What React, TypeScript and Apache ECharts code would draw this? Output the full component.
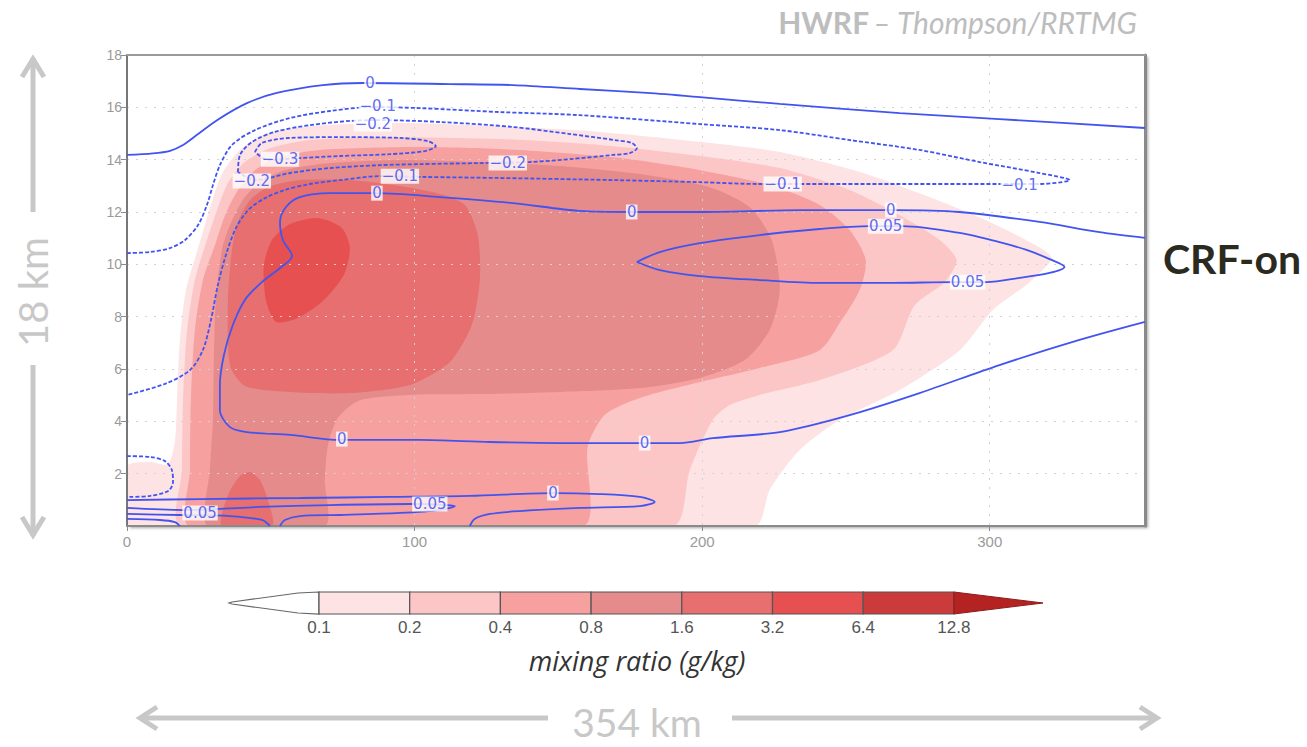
import React, { useEffect, useRef } from "react";
import * as echarts from "echarts";

// ---- shading levels (g/kg) ----
const barTicks = ["0.1", "0.2", "0.4", "0.8", "1.6", "3.2", "6.4", "12.8"];
const levelColors = ["#fde3e3", "#fcc6c6", "#f6a0a0", "#e58b8b", "#e76f6f", "#e65050", "#cb3b3b"];
const overColor = "#b52222";

// ---- filled regions, points are [radius km, height km] ----
const fill01 = [[0,0],[0,2.29],[8.0,2.45],[14.3,2.37],[16.7,3.29],[17.4,4.81],[18.4,7.11],[20.5,9.02],[24.0,10.36],[27.1,11.5],[29.9,12.53],[33.4,13.53],[39.3,14.37],[48.0,14.98],[63.6,15.28],[94.9,15.4],[129.6,15.28],[164.4,15.06],[199.2,14.68],[227.0,14.29],[254.8,13.53],[279.1,12.57],[300.0,11.62],[313.9,10.85],[321.5,10.24],[313.9,9.32],[301.0,8.25],[289.6,6.72],[268.7,5.2],[247.8,4.05],[233.9,2.9],[223.5,1.38],[218.3,0]];
const fill02 = [[18.8,0],[19.1,2.14],[19.5,4.81],[20.9,7.49],[23.6,9.4],[27.8,10.93],[31.3,12.07],[35.1,13.11],[41.0,13.91],[49.7,14.44],[63.6,14.75],[87.9,14.86],[129.6,14.79],[164.4,14.56],[199.2,14.14],[227.0,13.68],[251.3,12.84],[268.7,11.88],[282.6,10.93],[288.5,10.16],[284.3,9.32],[273.9,8.44],[266.3,6.72],[240.9,5.58],[220.0,5.01],[209.6,4.62],[203.7,4.05],[195.7,2.14],[189.8,0]];
const fill04 = [[21.9,0],[21.9,2.14],[22.2,4.81],[23.6,7.49],[26.4,9.4],[30.6,10.74],[34.1,11.88],[38.6,12.84],[44.5,13.6],[53.2,14.1],[67.1,14.37],[101.8,14.48],[136.6,14.37],[171.4,14.06],[199.2,13.6],[223.5,13.03],[240.9,12.27],[251.3,11.31],[256.9,10.16],[254.8,9.02],[248.5,7.87],[240.9,6.72],[220.0,6.04],[199.2,5.5],[178.3,4.89],[166.1,4.24],[160.2,3.02],[158.5,0]];
const fill08 = [[28.2,0],[28.8,2.14],[29.9,4.05],[30.2,6.34],[30.9,8.64],[33.0,10.55],[35.8,11.5],[40.3,12.46],[46.2,13.14],[54.9,13.6],[70.6,13.87],[94.9,13.99],[122.7,13.91],[150.5,13.76],[178.3,13.45],[202.6,12.95],[216.5,12.19],[224.2,10.93],[227.0,9.02],[223.5,7.49],[214.8,6.34],[199.2,5.66],[178.3,5.27],[150.5,5.12],[122.7,5.04],[98.4,5.01],[81.0,4.81],[73.3,4.13],[69.9,3.1],[68.8,1.76],[68.8,0]];
const fill16 = [[36.5,10.55],[38.6,11.62],[42.8,12.46],[49.0,12.95],[60.1,13.22],[77.5,13.22],[94.9,12.99],[108.8,12.69],[117.5,12.27],[122.0,11.12],[122.7,9.4],[119.9,7.68],[112.3,6.27],[98.4,5.39],[77.5,5.08],[56.7,5.12],[41.0,5.35],[35.8,6.15],[35.1,8.64]];
const fill16Low = [[33.0,0],[35.1,1.18],[39.3,1.91],[42.8,2.06],[46.2,1.76],[49.0,0.99],[50.4,0]];
const fill32 = [[50.4,10.93],[56.7,11.54],[66.4,11.77],[74.7,11.39],[77.5,10.62],[75.4,9.59],[68.5,8.64],[59.4,7.95],[51.8,7.8],[48.3,8.64],[47.6,9.97]];

// ---- contour lines of the second field ----
const cTop0 = [[0,14.18],[9.0,14.24],[15.0,14.34],[19.5,14.56],[24.0,14.92],[31.3,15.51],[41.7,16.16],[52.1,16.55],[68.1,16.85],[82.0,16.93],[112.3,16.89],[134.2,16.85],[157.5,16.7],[180.8,16.55],[199.2,16.39],[227.0,16.13],[268.7,15.78],[303.4,15.55],[354,15.21]];
const cNeg01 = [[0,10.43],[8.0,10.47],[14.9,10.62],[20.2,10.93],[24.7,11.5],[27.8,12.27],[29.9,13.03],[32.3,13.79],[36.5,14.56],[44.5,15.13],[56.7,15.59],[70.6,15.86],[85.2,16.01],[101.8,15.97],[129.6,15.82],[157.5,15.7],[199.2,15.36],[227.0,15.13],[251.3,14.75],[275.6,14.37],[296.5,13.91],[317.3,13.49],[327.8,13.22],[317.3,13.07],[303.4,13.07],[268.7,13.07],[232.9,13.07],[220.0,13.07],[199.2,13.14],[168.9,13.22],[129.6,13.3],[102.9,13.34],[87.9,13.37],[74.1,13.22],[63.6,13.07],[54.9,12.84],[48.0,12.53],[42.1,12.07],[37.9,11.39],[34.4,10.36],[31.6,9.21],[29.2,7.87],[26.4,6.73],[21.9,5.96],[13.2,5.43],[0,5.01]];
const cNeg02 = [[38.6,13.53],[39.3,14.18],[43.4,14.67],[51.4,15.06],[63.6,15.32],[77.5,15.48],[87.9,15.51],[108.8,15.44],[134.2,15.25],[154.0,14.98],[169.6,14.75],[175.5,14.64],[177.3,14.44],[174.8,14.25],[168.9,14.18],[154.0,14.02],[140.1,13.91],[122.7,13.87],[101.8,13.83],[87.9,13.79],[70.6,13.68],[56.7,13.49],[44.5,13.22],[38.6,13.53]];
const cNeg03 = [[44.5,14.29],[46.9,14.64],[56.7,14.83],[74.1,14.86],[94.9,14.83],[104.6,14.71],[107.4,14.52],[103.6,14.33],[91.4,14.21],[74.1,14.14],[60.1,14.06],[49.0,13.99],[44.5,14.29]];
const cNegLow = [[0,2.67],[8.0,2.64],[13.2,2.48],[15.6,2.14],[16.0,1.68],[14.3,1.34],[8.0,1.15],[0,1.11]];
const cMid0 = [[354,11.01],[338.2,11.23],[317.3,11.62],[289.5,12.0],[266.3,12.07],[233.9,12.07],[199.2,12.0],[175.5,12.0],[157.5,12.04],[134.2,12.34],[108.8,12.57],[86.9,12.72],[70.6,12.72],[60.1,12.57],[55.3,12.19],[53.2,11.62],[54.2,10.93],[57.4,10.32],[53.2,9.86],[46.9,9.32],[41.0,8.64],[36.8,7.68],[33.7,6.53],[32.3,5.39],[32.3,4.43],[35.8,3.78],[41.7,3.59],[56.7,3.48],[74.1,3.29],[101.8,3.29],[126.2,3.21],[150.5,3.17],[178.3,3.17],[192.2,3.17],[203.7,3.36],[227.0,3.59],[251.3,4.24],[275.6,5.08],[303.4,6.15],[331.2,7.11],[354,7.8]];
const cPos005 = [[177.3,10.09],[185.3,10.47],[199.2,10.81],[220.0,11.12],[240.9,11.35],[258.3,11.46],[269.7,11.46],[289.5,11.2],[303.4,10.85],[312.8,10.55],[320.8,10.2],[326.0,9.9],[320.8,9.67],[310.4,9.48],[298.9,9.32],[286.8,9.32],[266.3,9.29],[240.9,9.29],[220.0,9.4],[199.2,9.55],[185.3,9.78],[177.3,10.09]];
const cLow0 = [[0,0.99],[25.4,1.03],[60.1,1.07],[91.4,1.11],[119.2,1.15],[148.1,1.26],[164.4,1.22],[178.3,1.11],[183.5,0.92],[178.3,0.76],[157.5,0.69],[136.6,0.57],[126.2,0.46],[120.9,0.27],[119.2,0]];
const cLow005 = [[0,0.69],[19.5,0.61],[31.3,0.65],[46.2,0.73],[70.6,0.8],[98.4,0.84],[111.2,0.8],[114.0,0.76],[108.8,0.61],[94.9,0.5],[74.1,0.42],[60.1,0.38],[54.9,0.23],[53.2,0]];
const cLow005b = [[0,0.46],[18.4,0.42],[35.8,0.38],[46.9,0.23],[49.7,0]];
const cLow005c = [[0,0.27],[11.5,0.23],[16.7,0.15],[18.4,0]];

// ---- inline contour labels [x km, z km, text] ----
const contourLabels: [number, number, string][] = [
  [84.5, 16.93, "0"],
  [85.5, 15.36, "\u22120.2"],
  [87.2, 16.04, "\u22120.1"],
  [53.2, 14.02, "\u22120.3"],
  [43.4, 13.18, "\u22120.2"],
  [94.9, 13.37, "\u22120.1"],
  [132.4, 13.87, "\u22120.2"],
  [228.0, 13.07, "\u22120.1"],
  [310.4, 13.03, "\u22120.1"],
  [86.9, 12.72, "0"],
  [175.5, 12.0, "0"],
  [265.6, 12.07, "0"],
  [263.8, 11.46, "0.05"],
  [292.3, 9.32, "0.05"],
  [74.7, 3.32, "0"],
  [180.0, 3.17, "0"],
  [148.1, 1.26, "0"],
  [105.3, 0.84, "0.05"],
  [25.4, 0.5, "0.05"],
];

const fillShapes = [
  { ring: fill01, color: levelColors[0] },
  { ring: fill02, color: levelColors[1] },
  { ring: fill04, color: levelColors[2] },
  { ring: fill08, color: levelColors[3] },
  { ring: fill16, color: levelColors[4] },
  { ring: fill16Low, color: levelColors[4] },
  { ring: fill32, color: levelColors[5] },
];

const contours = [
  { data: cTop0, dashed: false },
  { data: cNeg01, dashed: true },
  { data: cNeg02, dashed: true },
  { data: cNeg03, dashed: true },
  { data: cNegLow, dashed: true },
  { data: cMid0, dashed: false },
  { data: cPos005, dashed: false },
  { data: cLow0, dashed: false },
  { data: cLow005, dashed: false },
  { data: cLow005b, dashed: false },
  { data: cLow005c, dashed: false },
];

const LINE_BLUE = "#4254f0";
const GREY_NOTE = "#c8c8c8";

function buildColorbar() {
  const x0 = 319;
  const w = 90.7;
  const y0 = 592;
  const h = 22;
  const els: any[] = [];
  els.push({
    type: "polygon",
    shape: { points: [[x0, y0], [298, y0 + 1], [232, y0 + 10], [229, y0 + 11], [232, y0 + 12], [298, y0 + h - 1], [x0, y0 + h]] },
    style: { fill: "#ffffff", stroke: "#666", lineWidth: 1.2 },
  });
  levelColors.forEach((c, i) => {
    els.push({
      type: "rect",
      shape: { x: x0 + i * w, y: y0, width: w, height: h },
      style: { fill: c, stroke: "#555", lineWidth: 1.2 },
    });
  });
  const xe = x0 + levelColors.length * w;
  els.push({
    type: "polygon",
    shape: { points: [[xe, y0], [1043, y0 + 11], [xe, y0 + h]] },
    style: { fill: overColor, stroke: "#8a1c1c", lineWidth: 1 },
  });
  barTicks.forEach((t, i) => {
    els.push({
      type: "text",
      x: x0 + i * w,
      y: y0 + h + 5,
      style: {
        text: t, fill: "#555", fontSize: 17, fontFamily: "Liberation Sans",
        align: "center", verticalAlign: "top", textAlign: "center", textVerticalAlign: "top",
      },
    });
  });
  els.push({
    type: "text",
    x: 637,
    y: 660,
    style: {
      text: "mixing ratio (g/kg)", fill: "#333", fontSize: 27, fontStyle: "italic", fontFamily: "Open Sans",
      align: "center", verticalAlign: "middle", textAlign: "center", textVerticalAlign: "middle",
    },
  });
  return els;
}

function buildNotes() {
  const ln = (x1: number, y1: number, x2: number, y2: number) => ({
    type: "line", shape: { x1, y1, x2, y2 }, style: { stroke: GREY_NOTE, lineWidth: 5 },
  });
  const pl = (pts: number[][]) => ({
    type: "polyline", shape: { points: pts }, style: { stroke: GREY_NOTE, lineWidth: 5, fill: null },
  });
  return [
    {
      type: "text",
      x: 1137,
      y: 22,
      style: {
        text: "{b|HWRF} {i|\u2013 Thompson/RRTMG}",
        align: "right", verticalAlign: "middle", textAlign: "right", textVerticalAlign: "middle",
        rich: {
          b: { fontWeight: "bold", fontSize: 30, fontFamily: "Lato", fill: "#bdbdbd", color: "#bdbdbd" },
          i: { fontStyle: "italic", fontSize: 30, fontFamily: "Lato", fill: "#bdbdbd", color: "#bdbdbd" },
        },
      },
    },
    {
      type: "text",
      x: 1163,
      y: 258,
      style: {
        text: "CRF-on", fill: "#2b2a1f", fontSize: 41, fontWeight: "bold", fontFamily: "Lato",
        align: "left", verticalAlign: "middle", textAlign: "left", textVerticalAlign: "middle",
      },
    },
    {
      type: "text",
      x: 33,
      y: 292,
      rotation: Math.PI / 2,
      style: {
        text: "18 km", fill: GREY_NOTE, fontSize: 40, fontFamily: "Lato",
        align: "center", verticalAlign: "middle", textAlign: "center", textVerticalAlign: "middle",
      },
    },
    ln(33, 58, 33, 212),
    ln(33, 365, 33, 536),
    pl([[22, 77], [33, 59], [44, 77]]),
    pl([[22, 517], [33, 535], [44, 517]]),
    {
      type: "text",
      x: 637,
      y: 722,
      style: {
        text: "354 km", fill: GREY_NOTE, fontSize: 39, fontFamily: "Lato",
        align: "center", verticalAlign: "middle", textAlign: "center", textVerticalAlign: "middle",
      },
    },
    ln(140, 718, 548, 718),
    ln(732, 718, 1157, 718),
    pl([[157, 707], [140, 718], [157, 729]]),
    pl([[1140, 707], [1157, 718], [1140, 729]]),
  ];
}

export default function App() {
  const ref = useRef<HTMLDivElement>(null);

  useEffect(() => {
    if (!ref.current) return;
    const chart = echarts.init(ref.current, undefined, { renderer: "svg" });

    const tickLabel = { color: "#9a9a9a", fontSize: 14, fontFamily: "Liberation Sans" };
    const dotted = { show: true, lineStyle: { color: "#d2d2d2", type: [2, 7] as any, width: 1 } };

    const option: any = {
      animation: false,
      backgroundColor: "#ffffff",
      grid: {
        left: 127, top: 55, right: 162, bottom: 221,
        show: true, backgroundColor: "#ffffff", borderWidth: 0,
        shadowColor: "rgba(0,0,0,0.35)", shadowBlur: 3, shadowOffsetX: 3, shadowOffsetY: 2,
      },
      xAxis: [
        {
          type: "value", min: 0, max: 354, interval: 100, position: "bottom", z: 3,
          axisLine: { show: true, onZero: false, lineStyle: { color: "#8a8a8a", width: 2 } },
          axisTick: { show: true, length: 5, lineStyle: { color: "#8a8a8a" } },
          axisLabel: { ...tickLabel, fontSize: 15, margin: 8, showMaxLabel: false },
          splitLine: dotted,
        },
        {
          type: "value", min: 0, max: 354, position: "top", z: 3,
          axisLine: { show: true, onZero: false, lineStyle: { color: "#9a9a9a", width: 2 } },
          axisTick: { show: false }, axisLabel: { show: false }, splitLine: { show: false },
        },
      ],
      yAxis: [
        {
          type: "value", min: 0, max: 18, interval: 2, position: "left", z: 3,
          axisLine: { show: true, onZero: false, lineStyle: { color: "#777", width: 2 } },
          axisTick: { show: true, length: 6, lineStyle: { color: "#8a8a8a" } },
          axisLabel: { ...tickLabel, margin: 5, showMinLabel: false },
          splitLine: dotted,
        },
        {
          type: "value", min: 0, max: 18, position: "right", z: 3,
          axisLine: { show: true, onZero: false, lineStyle: { color: "#8a8a8a", width: 3 } },
          axisTick: { show: false }, axisLabel: { show: false }, splitLine: { show: false },
        },
      ],
      series: [
        {
          type: "custom",
          z: 1,
          silent: true,
          clip: true,
          xAxisIndex: 0,
          yAxisIndex: 0,
          data: fillShapes.map((_, i) => [i, 0]),
          renderItem: (params: any, api: any) => {
            const s = fillShapes[params.dataIndex];
            const pts = s.ring.map((p) => api.coord(p));
            return {
              type: "polygon",
              shape: { points: pts, smooth: 0.25 },
              style: { fill: s.color, stroke: null },
            };
          },
        },
        ...contours.map((c) => ({
          type: "line",
          z: 4,
          silent: true,
          xAxisIndex: 0,
          yAxisIndex: 0,
          data: c.data,
          symbol: "none",
          showSymbol: false,
          smooth: 0.3,
          lineStyle: { color: LINE_BLUE, width: 1.8, type: c.dashed ? [4, 2] : "solid" },
        })),
        {
          type: "scatter",
          z: 5,
          silent: true,
          xAxisIndex: 0,
          yAxisIndex: 0,
          symbolSize: 1,
          itemStyle: { color: "rgba(0,0,0,0)" },
          data: contourLabels.map((l) => ({ value: [l[0], l[1]], name: l[2] })),
          label: {
            show: true,
            position: "inside",
            formatter: (p: any) => p.name,
            color: "#3446ee",
            fontSize: 15,
            fontFamily: "DejaVu Sans",
            backgroundColor: "#ffffff",
            padding: [0, 1],
          },
        },
      ],
      graphic: [...buildColorbar(), ...buildNotes()],
    };

    chart.setOption(option);
    return () => chart.dispose();
  }, []);

  return (
    <div
      ref={ref}
      style={{ position: "fixed", left: 0, top: 0, width: 1307, height: 747, background: "#fff" }}
    />
  );
}
